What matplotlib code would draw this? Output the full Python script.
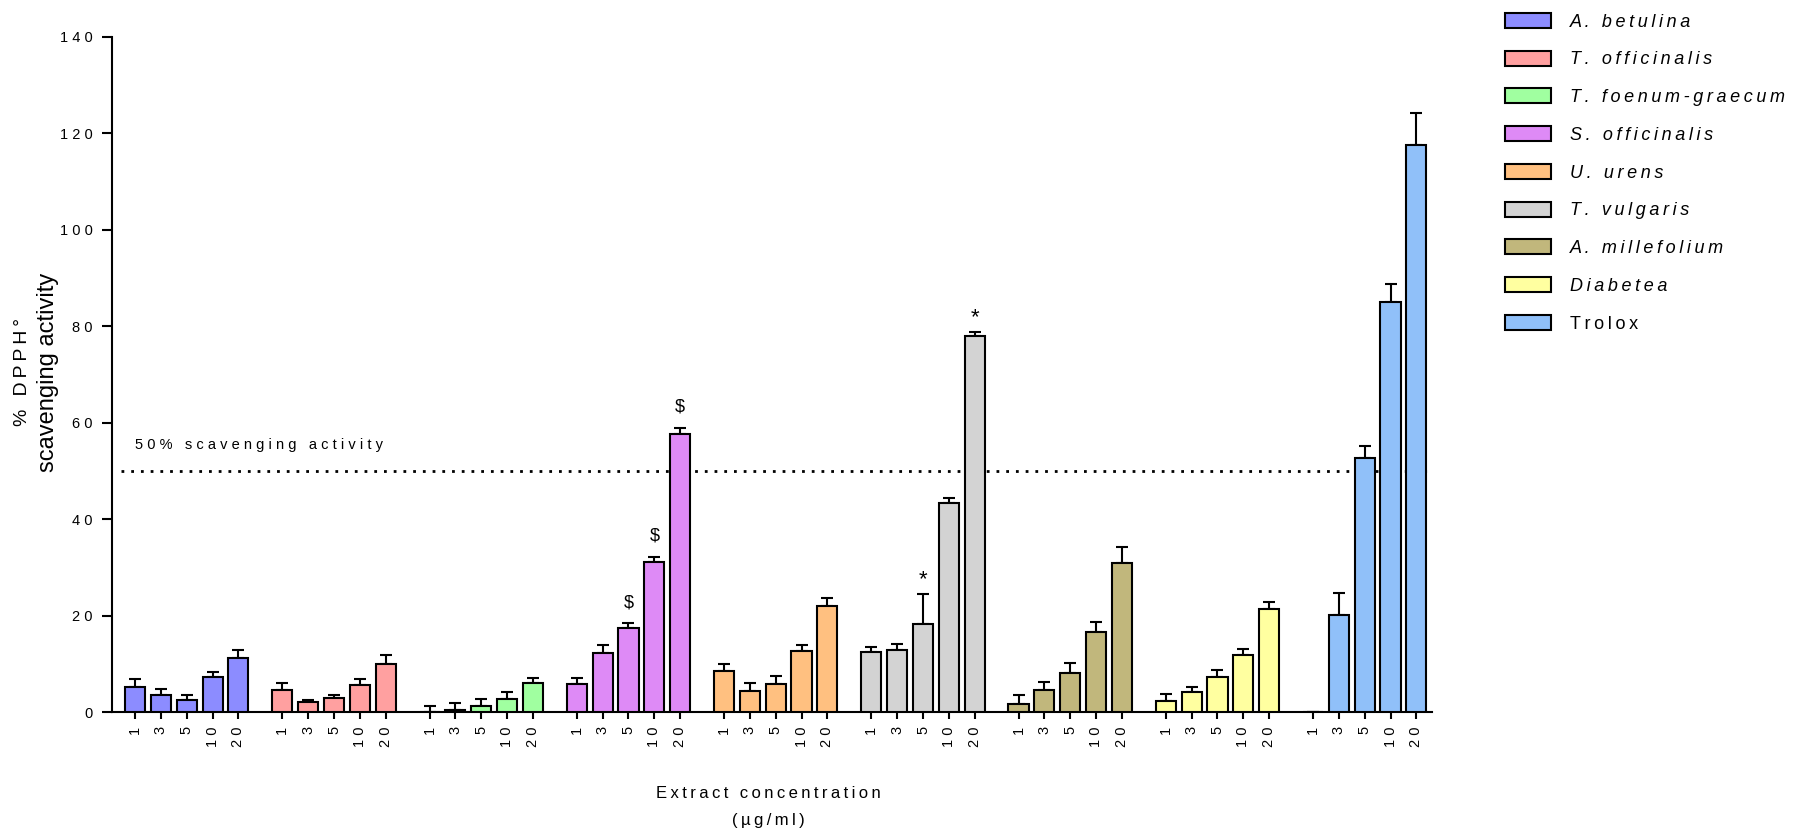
import numpy as np
import matplotlib.pyplot as plt
from matplotlib.patches import Patch

plt.rcParams['font.family'] = ['Liberation Sans', 'DejaVu Sans']

# extracts, concentrations and colours
extracts = ['A. betulina', 'T. officinalis', 'T. foenum-graecum', 'S. officinalis',
            'U. urens', 'T. vulgaris', 'A. millefolium', 'Diabetea', 'Trolox']
concs = ['1', '3', '5', '10', '20']
colors = ['#8c8cff', '#ffa0a0', '#a0ffa0', '#de8af6', '#ffc080',
          '#d3d3d3', '#c1b77c', '#ffffa0', '#90c0f9']

# % DPPH scavenging (mean) per extract, 1..20 ug/ml
means = [
    [5.2, 3.6, 2.5, 7.2, 11.3],
    [4.6, 2.1, 3.0, 5.6, 9.9],
    [0.0, 0.5, 1.2, 2.8, 6.0],
    [5.9, 12.2, 17.5, 31.1, 57.7],
    [8.5, 4.5, 5.8, 12.7, 22.1],
    [12.4, 12.8, 18.3, 43.4, 77.9],
    [1.7, 4.7, 8.1, 16.6, 31.0],
    [2.3, 4.1, 7.2, 11.8, 21.4],
    [0.0, 20.1, 52.6, 85.1, 117.6],
]
# upper error (SD)
errs = [
    [1.6, 1.3, 1.1, 1.1, 1.6],
    [1.4, 0.4, 0.6, 1.2, 1.9],
    [1.2, 1.5, 1.6, 1.3, 1.1],
    [1.2, 1.7, 0.9, 1.1, 1.2],
    [1.5, 1.6, 1.7, 1.3, 1.6],
    [1.2, 1.4, 6.2, 1.0, 0.9],
    [1.8, 1.5, 2.1, 2.1, 3.2],
    [1.5, 1.2, 1.5, 1.3, 1.4],
    [0.0, 4.7, 2.6, 3.7, 6.6],
]
# significance marks: (extract index, conc index, symbol)
marks = [(3, 2, '$'), (3, 3, '$'), (3, 4, '$'), (5, 2, '*'), (5, 4, '*')]


def spaced(s, sep='\u2009'):
    return sep.join(s)


group_step = 5.7
fig = plt.figure(figsize=(18.04, 8.34), dpi=100)
ax = fig.add_axes([0.062, 0.146, 0.732, 0.81])

xticks, xlabels = [], []
for g, name in enumerate(extracts):
    x = g * group_step + np.arange(5)
    m = np.array(means[g])
    e = np.array(errs[g])
    ax.bar(x, m, width=0.78, color=colors[g], edgecolor='black', linewidth=1.5, zorder=3)
    ax.errorbar(x, m, yerr=[np.zeros(5), e], fmt='none', ecolor='black',
                elinewidth=1.5, capsize=4, capthick=1.5, zorder=2)
    xticks += list(x)
    xlabels += concs

# offset above the error cap and size for each symbol
mark_style = {'$': (2.5, 13), '*': (0.8, 16)}
for g, i, sym in marks:
    x = g * group_step + i
    y = means[g][i] + errs[g][i]
    off, fs = mark_style[sym]
    ax.text(x, y + off, sym, ha='center', va='bottom', fontsize=fs)

ax.axhline(50, xmin=0.007, color='black', linestyle=(0, (1, 2.5)), linewidth=2, zorder=1)
ax.text(0.0, 54, spaced('50% scavenging activity', ' '), fontsize=10.5,
        ha='left', va='bottom')

ax.set_xlim(-0.9, 8 * group_step + 4 + 0.62)
ax.set_ylim(0, 140)
ax.set_yticks(np.arange(0, 141, 20))
ax.set_yticklabels([spaced(str(v), ' ') for v in range(0, 141, 20)], fontsize=10.5)
ax.set_xticks(xticks)
ax.set_xticklabels([spaced(s, ' ') for s in xlabels], rotation=90, fontsize=10.5)
ax.tick_params(axis='both', direction='out', width=1.5)
ax.tick_params(axis='y', length=7, pad=7)
ax.tick_params(axis='x', length=5, pad=5)

for side in ['top', 'right']:
    ax.spines[side].set_visible(False)
for side in ['left', 'bottom']:
    ax.spines[side].set_linewidth(1.5)

# y label, two lines
fig.text(0.0125, 0.554, spaced('% DPPH\u00b0'), rotation=90,
         ha='center', va='center', fontsize=14)
fig.text(0.0265, 0.554, 'scavenging activity', rotation=90,
         ha='center', va='center', fontsize=17)

fig.text(0.426, 0.049, spaced('Extract concentration'), ha='center', va='center', fontsize=12)
fig.text(0.426, 0.016, spaced('(\u00b5g/ml)'), ha='center', va='center', fontsize=12)

handles = [Patch(facecolor=c, edgecolor='black', linewidth=1.5) for c in colors]
labels = [spaced(n) for n in extracts]
leg = fig.legend(handles, labels, loc='upper left', bbox_to_anchor=(0.825, 1.004),
                 frameon=False, fontsize=13, handlelength=2.6, handleheight=0.9,
                 labelspacing=1.11, handletextpad=1.0)
for t, n in zip(leg.get_texts(), extracts):
    if n != 'Trolox':
        t.set_style('italic')

fig.savefig('out.png', dpi=100)
